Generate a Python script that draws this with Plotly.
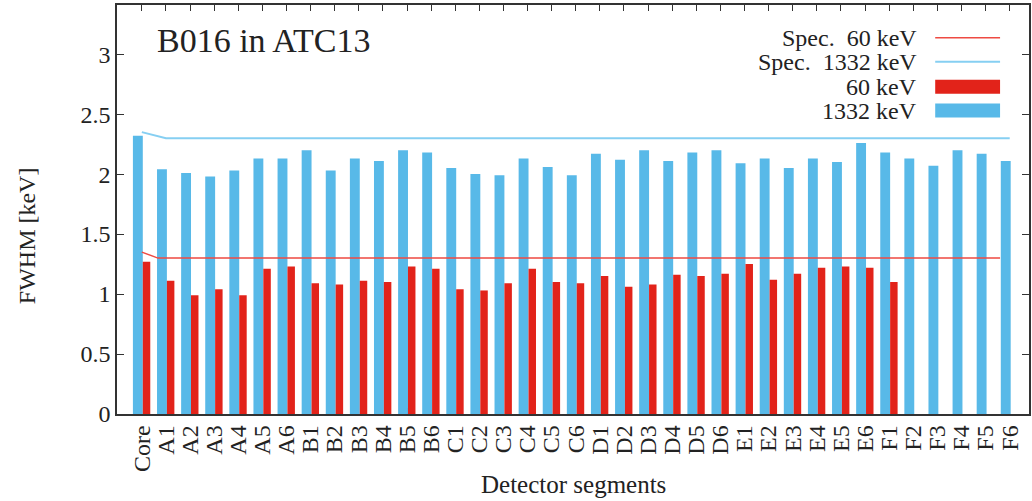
import plotly.graph_objects as go

segments = ['Core',
            'A1', 'A2', 'A3', 'A4', 'A5', 'A6',
            'B1', 'B2', 'B3', 'B4', 'B5', 'B6',
            'C1', 'C2', 'C3', 'C4', 'C5', 'C6',
            'D1', 'D2', 'D3', 'D4', 'D5', 'D6',
            'E1', 'E2', 'E3', 'E4', 'E5', 'E6',
            'F1', 'F2', 'F3', 'F4', 'F5', 'F6']

fwhm_1332 = [2.32,
             2.04, 2.01, 1.98, 2.03, 2.13, 2.13,
             2.20, 2.03, 2.13, 2.11, 2.20, 2.18,
             2.05, 2.00, 1.99, 2.13, 2.06, 1.99,
             2.17, 2.12, 2.20, 2.11, 2.18, 2.20,
             2.09, 2.13, 2.05, 2.13, 2.10, 2.26,
             2.18, 2.13, 2.07, 2.20, 2.17, 2.11]

fwhm_60 = [1.27,
           1.11, 0.99, 1.04, 0.99, 1.21, 1.23,
           1.09, 1.08, 1.11, 1.10, 1.23, 1.21,
           1.04, 1.03, 1.09, 1.21, 1.10, 1.09,
           1.15, 1.06, 1.08, 1.16, 1.15, 1.17,
           1.25, 1.12, 1.17, 1.22, 1.23, 1.22,
           1.10, None, None, None, None, None]

# specification curves (x in segment-index units)
spec1332_x = [0, 1, 36]
spec1332_y = [2.35, 2.30, 2.30]
spec60_x = [0, 0.67, 35.6]
spec60_y = [1.35, 1.30, 1.30]

y_ticks = [0, 0.5, 1, 1.5, 2, 2.5, 3]
y_ticktext = ['0', '0.5', '1', '1.5', '2', '2.5', '3']

RED = '#E2231A'
BLUE = '#58B9E8'
SPEC_RED = '#EE4A42'
SPEC_BLUE = '#86CFF2'
FONT = 'Liberation Serif'
TXT = '#222222'
AX = '#333333'

idx = list(range(len(segments)))

fig = go.Figure()
fig.add_trace(go.Bar(x=idx, y=fwhm_1332, offset=-0.37, width=0.41,
                     marker=dict(color=BLUE, line=dict(width=0)),
                     name='1332 keV', showlegend=False))
fig.add_trace(go.Bar(x=idx, y=fwhm_60, offset=0.04, width=0.31,
                     marker=dict(color=RED, line=dict(width=0)),
                     name='60 keV', showlegend=False))
fig.add_trace(go.Scatter(x=spec60_x, y=spec60_y, mode='lines',
                         line=dict(color=SPEC_RED, width=1.5),
                         name='Spec. 60 keV', showlegend=False))
fig.add_trace(go.Scatter(x=spec1332_x, y=spec1332_y, mode='lines',
                         line=dict(color=SPEC_BLUE, width=2),
                         name='Spec. 1332 keV', showlegend=False))

L, R, T, B = 117, 1, 5, 87
W, H = 1032, 501
pw, ph = W - L - R, H - T - B


def px(x):
    return (x - L) / pw


def py(y):
    return (H - B - y) / ph


annotations = []
shapes = []

annotations.append(dict(text='B016 in ATC13', x=px(155), y=py(41), xref='paper', yref='paper',
                        xanchor='left', yanchor='middle', showarrow=False,
                        font=dict(family=FONT, size=34, color=TXT)))
annotations.append(dict(text='FWHM [keV]', x=px(27), y=py(236), xref='paper', yref='paper',
                        xanchor='center', yanchor='middle', showarrow=False, textangle=-90,
                        font=dict(family=FONT, size=24, color=TXT)))
annotations.append(dict(text='Detector segments', x=px(575), y=py(484), xref='paper', yref='paper',
                        xanchor='center', yanchor='middle', showarrow=False,
                        font=dict(family=FONT, size=25, color=TXT)))

legend_items = [('Spec.&nbsp; 60 keV', 'line', SPEC_RED, 37.7),
                ('Spec.&nbsp; 1332 keV', 'line', SPEC_BLUE, 61.7),
                ('60 keV', 'rect', RED, 86.7),
                ('1332 keV', 'rect', BLUE, 110.5)]
for text, kind, col, yc in legend_items:
    annotations.append(dict(text=text, x=px(921), y=py(yc), xref='paper', yref='paper',
                            xanchor='right', yanchor='middle', showarrow=False,
                            font=dict(family=FONT, size=24, color=TXT)))
    if kind == 'line':
        shapes.append(dict(type='line', xref='paper', yref='paper',
                           x0=px(937), x1=px(1002), y0=py(yc), y1=py(yc),
                           line=dict(color=col, width=1.5 if col == SPEC_RED else 2)))
    else:
        shapes.append(dict(type='rect', xref='paper', yref='paper',
                           x0=px(937), x1=px(1002), y0=py(yc - 7), y1=py(yc + 7),
                           fillcolor=col, line=dict(width=0)))

fig.update_layout(
    width=W, height=H,
    margin=dict(l=L, r=R, t=T, b=B, pad=0),
    paper_bgcolor='white', plot_bgcolor='white',
    barmode='overlay',
    showlegend=False,
    font=dict(family=FONT, size=24, color=TXT),
    annotations=annotations,
    shapes=shapes,
    xaxis=dict(range=[-1.03, 36.8], tickmode='array', tickvals=idx, ticktext=segments,
               tickangle=-90, ticks='inside', ticklen=6, tickcolor=AX, tickwidth=1,
               showline=True, linecolor=AX, linewidth=1.5, mirror='ticks',
               showgrid=False, zeroline=False, layer='below traces',
               tickfont=dict(family=FONT, size=24, color=TXT)),
    yaxis=dict(range=[0, 3.41], tickmode='array', tickvals=y_ticks, ticktext=y_ticktext,
               ticks='inside', ticklen=7, tickcolor=AX, tickwidth=1,
               showline=True, linecolor=AX, linewidth=1.5, mirror='ticks',
               showgrid=False, zeroline=False,
               tickfont=dict(family=FONT, size=24, color=TXT)),
)

fig.write_html('out.html')
